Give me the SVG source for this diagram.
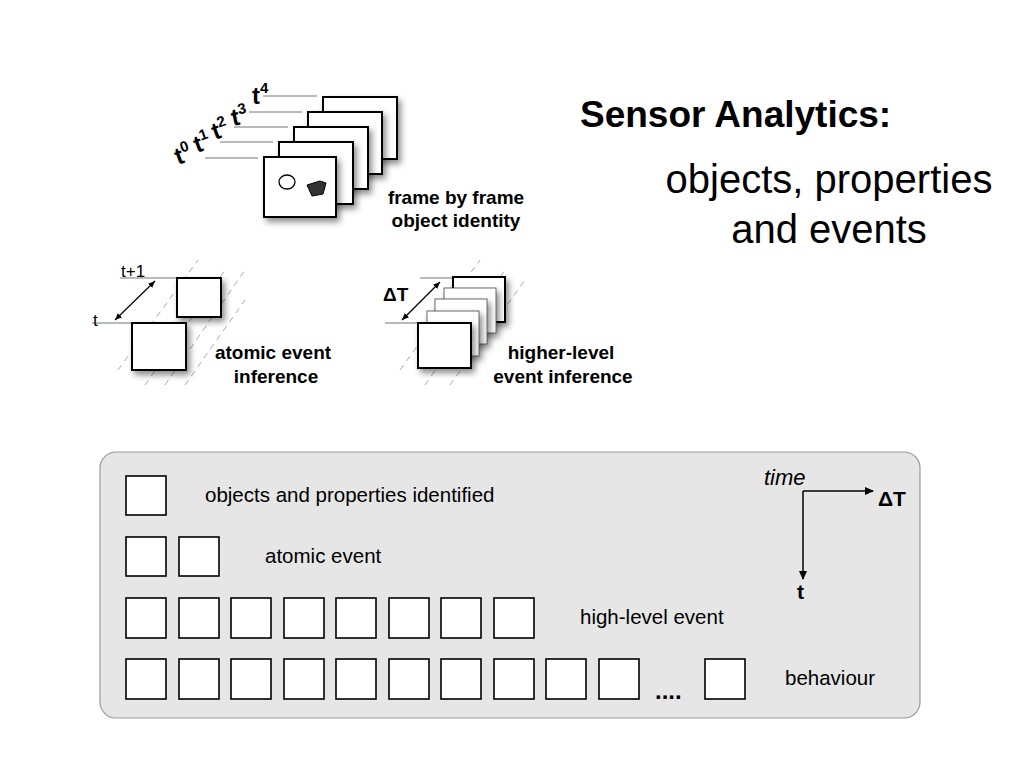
<svg xmlns="http://www.w3.org/2000/svg" width="1024" height="768" viewBox="0 0 1024 768">
<defs>
<filter id="sh" x="-20%" y="-20%" width="150%" height="150%"><feDropShadow dx="3" dy="4" stdDeviation="3" flood-color="#000" flood-opacity="0.45"/></filter>
<marker id="ah" markerWidth="10" markerHeight="10" refX="8" refY="5" orient="auto" markerUnits="userSpaceOnUse"><path d="M0,1 L9,5 L0,9 z" fill="#000"/></marker>
<marker id="sa" markerWidth="8" markerHeight="8" refX="7" refY="4" orient="auto-start-reverse" markerUnits="userSpaceOnUse"><path d="M0,1 L7,4 L0,7 z" fill="#000"/></marker>
</defs>
<style>
text{font-family:"Liberation Sans",Arial,sans-serif;fill:#000}
.fr{fill:#fff;stroke:#000;stroke-width:2;filter:url(#sh)}
.fm{fill:#fff;stroke:#444;stroke-width:0.8;filter:url(#sh)}
.bx{fill:#fff;stroke:#000;stroke-width:1.6}
.gl{stroke:#777;stroke-width:1.2}
.dl{stroke:#aaa;stroke-width:1;stroke-dasharray:6,5}
.lbl{font-size:19px;font-weight:bold}
.bt{font-size:20.5px}
.tt{font-weight:bold;font-size:24px}
</style>
<rect width="1024" height="768" fill="#fff"/>
<g id="title">
<text x="580" y="127" font-size="37" font-weight="bold">Sensor Analytics:</text>
<text x="829" y="193" font-size="40" text-anchor="middle">objects, properties</text>
<text x="829" y="243" font-size="40" text-anchor="middle">and events</text>
</g>
<g id="frames">
<line class="gl" x1="263" y1="96" x2="317" y2="96"/>
<line class="gl" x1="249" y1="112" x2="302" y2="112"/>
<line class="gl" x1="234" y1="127" x2="288" y2="127"/>
<line class="gl" x1="220" y1="142" x2="273" y2="142"/>
<line class="gl" x1="205" y1="158" x2="258" y2="158"/>
<rect class="fr" x="323" y="97" width="74" height="62"/>
<rect class="fr" x="308" y="112" width="74" height="62"/>
<rect class="fr" x="294" y="127" width="74" height="62"/>
<rect class="fr" x="279" y="142" width="74" height="62"/>
<rect class="fr" x="264" y="157" width="72" height="60"/>
<ellipse cx="287" cy="182" rx="8" ry="7" fill="#fff" stroke="#000" stroke-width="1.3"/>
<path d="M307,185 L320,181 L326,183 L323,194 L312,196 Z" fill="#333" stroke="#000"/>
<g class="tt">
<text x="178" y="165" transform="rotate(-20 178 165)">t<tspan font-size="15" dy="-10">0</tspan></text>
<text x="197" y="153" transform="rotate(-20 197 153)">t<tspan font-size="15" dy="-10">1</tspan></text>
<text x="215" y="140" transform="rotate(-20 215 140)">t<tspan font-size="15" dy="-10">2</tspan></text>
<text x="233" y="126" transform="rotate(-12 233 126)">t<tspan font-size="15" dy="-10">3</tspan></text>
<text x="252" y="104">t<tspan font-size="15" dy="-11">4</tspan></text>
</g>
<text class="lbl" x="456" y="204" text-anchor="middle">frame by frame</text>
<text class="lbl" x="456" y="227" text-anchor="middle">object identity</text>
</g>
<g id="atomic">
<line class="dl" x1="118" y1="370" x2="198" y2="260"/>
<line class="dl" x1="145" y1="385" x2="225" y2="270"/>
<line class="dl" x1="165" y1="385" x2="245" y2="270"/>
<line class="dl" x1="185" y1="385" x2="245" y2="300"/>
<line class="gl" x1="92" y1="323" x2="132" y2="323" stroke="#555"/>
<line class="gl" x1="120" y1="278" x2="177" y2="278" stroke="#555"/>
<line x1="115" y1="320" x2="155" y2="281" stroke="#000" stroke-width="1.2" marker-start="url(#sa)" marker-end="url(#sa)"/>
<text x="121" y="277" font-size="17">t+1</text>
<text x="93" y="326" font-size="17">t</text>
<rect class="fr" x="177" y="278" width="44" height="39"/>
<rect class="fr" x="132" y="323" width="54" height="47"/>
<text class="lbl" x="273" y="359" text-anchor="middle">atomic event</text>
<text class="lbl" x="276" y="383" text-anchor="middle">inference</text>
</g>
<g id="higher">
<line class="dl" x1="400" y1="370" x2="480" y2="260"/>
<line class="dl" x1="425" y1="385" x2="505" y2="270"/>
<line class="dl" x1="450" y1="385" x2="525" y2="280"/>
<line class="gl" x1="385" y1="323" x2="418" y2="323" stroke="#555"/>
<line class="gl" x1="420" y1="278" x2="453" y2="278" stroke="#555"/>
<line x1="402" y1="320" x2="440" y2="282" stroke="#000" stroke-width="1.2" marker-start="url(#sa)" marker-end="url(#sa)"/>
<text x="383" y="301" font-size="19" font-weight="bold">ΔT</text>
<rect class="fr" x="453" y="277" width="52" height="45"/>
<rect class="fm" x="444" y="288" width="52" height="45"/>
<rect class="fm" x="435" y="299" width="52" height="45"/>
<rect class="fm" x="427" y="311" width="52" height="45"/>
<rect class="fr" x="418" y="323" width="53" height="45"/>
<text class="lbl" x="561" y="359" text-anchor="middle">higher-level</text>
<text class="lbl" x="563" y="383" text-anchor="middle">event inference</text>
</g>
<g id="legend">
<rect x="100" y="452" width="820" height="266" rx="16" fill="#e6e6e6" stroke="#999" stroke-width="1.2"/>
<rect class="bx" x="126" y="476" width="40" height="39"/>
<text class="bt" x="205" y="502">objects and properties identified</text>
<g><rect class="bx" x="126" y="537" width="40" height="39"/><rect class="bx" x="179" y="537" width="40" height="39"/></g>
<text class="bt" x="265" y="563">atomic event</text>
<g>
<rect class="bx" x="126" y="598" width="40" height="40"/><rect class="bx" x="179" y="598" width="40" height="40"/><rect class="bx" x="231" y="598" width="40" height="40"/><rect class="bx" x="284" y="598" width="40" height="40"/><rect class="bx" x="336" y="598" width="40" height="40"/><rect class="bx" x="389" y="598" width="40" height="40"/><rect class="bx" x="441" y="598" width="40" height="40"/><rect class="bx" x="494" y="598" width="40" height="40"/>
</g>
<text class="bt" x="580" y="624">high-level event</text>
<g>
<rect class="bx" x="126" y="659" width="40" height="40"/><rect class="bx" x="179" y="659" width="40" height="40"/><rect class="bx" x="231" y="659" width="40" height="40"/><rect class="bx" x="284" y="659" width="40" height="40"/><rect class="bx" x="336" y="659" width="40" height="40"/><rect class="bx" x="389" y="659" width="40" height="40"/><rect class="bx" x="441" y="659" width="40" height="40"/><rect class="bx" x="494" y="659" width="40" height="40"/><rect class="bx" x="546" y="659" width="40" height="40"/><rect class="bx" x="599" y="659" width="40" height="40"/><rect class="bx" x="705" y="659" width="40" height="40"/>
</g>
<text x="655" y="699" font-size="24" font-weight="bold">....</text>
<text class="bt" x="785" y="685">behaviour</text>
<text x="764" y="485" font-size="22" font-style="italic">time</text>
<line x1="803" y1="491" x2="873" y2="491" stroke="#000" stroke-width="1.5" marker-end="url(#ah)"/>
<line x1="803" y1="491" x2="803" y2="579" stroke="#000" stroke-width="1.5" marker-end="url(#ah)"/>
<text x="878" y="506" font-size="21" font-weight="bold">ΔT</text>
<text x="797" y="599" font-size="21" font-weight="bold">t</text>
</g>
</svg>
